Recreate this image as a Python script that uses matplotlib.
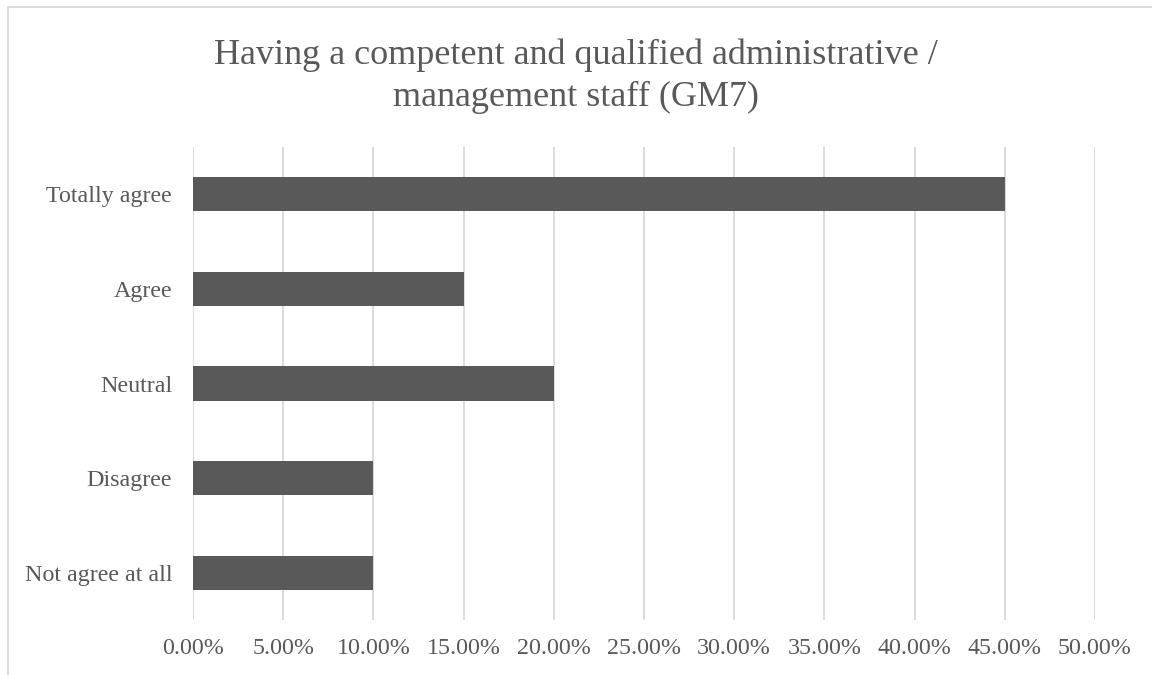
import matplotlib.pyplot as plt
from matplotlib.patches import Rectangle
from matplotlib.ticker import PercentFormatter

categories = ['Not agree at all', 'Disagree', 'Neutral', 'Agree', 'Totally agree']
values = [10, 10, 20, 15, 45]
ticks = [0, 5, 10, 15, 20, 25, 30, 35, 40, 45, 50]

plt.rcParams['font.family'] = ['Liberation Serif', 'DejaVu Serif']
txt = '#595959'

fig = plt.figure(figsize=(11.52, 6.75), dpi=100)
ax = fig.add_axes([0.1675, 0.0815, 0.783, 0.7007])

ax.barh(range(len(categories)), values, height=0.36, color='#595959', zorder=3)
ax.set_yticks(range(len(categories)))
ax.set_yticklabels(categories)
ax.set_ylim(-0.5, len(categories) - 0.5)
ax.set_xlim(0, 50)
ax.set_xticks(ticks)
ax.xaxis.set_major_formatter(PercentFormatter(decimals=2))
ax.grid(axis='x', color='#d9d9d9', linewidth=1.3, zorder=0)
for s in ax.spines.values():
    s.set_visible(False)
ax.tick_params(length=0, labelsize=17.3, colors=txt)
ax.tick_params(axis='x', pad=13)
ax.tick_params(axis='y', pad=15)

fig.text(0.5, 0.887, 'Having a competent and qualified administrative /\nmanagement staff (GM7)',
         ha='center', va='center', fontsize=26, color=txt, linespacing=1.32)

fig.patches.append(Rectangle((8 / 1152, -0.05), 1.1, 1 - 7 / 675 + 0.05,
                             transform=fig.transFigure, fill=False,
                             edgecolor='#d9d9d9', linewidth=1.3))

fig.savefig('out.png', dpi=100)
